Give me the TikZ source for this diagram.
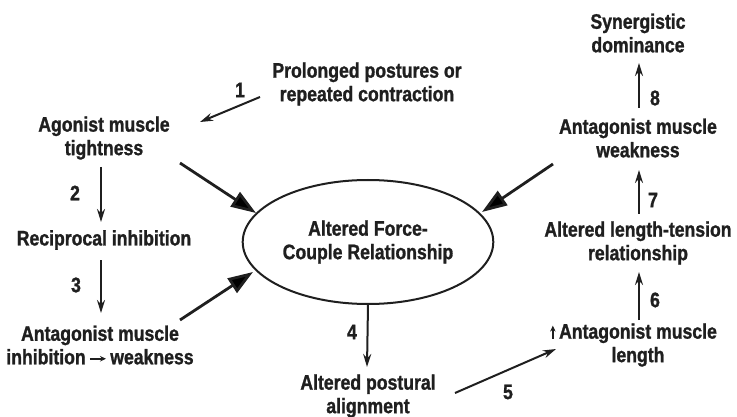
\documentclass[tikz,border=0pt]{standalone}
\usepackage{fontspec}
\setmainfont{Liberation Sans}[FakeStretch=0.84, BoldFeatures={FakeBold=1.2}]
\usepackage{tikz}
\usetikzlibrary{shapes.geometric,arrows.meta}
\tikzstyle{step text} = [align=center, inner sep=1pt, font=\bfseries\fontsize{21}{23.5}\selectfont, text=black!88]
\tikzstyle{num} = [inner sep=1pt, font=\bfseries\fontsize{21}{23.5}\selectfont, text=black!88]
\tikzstyle{hub} = [ellipse, draw=black!88, line width=2pt, minimum width=236pt, minimum height=124pt, align=center, font=\bfseries\fontsize{21}{23.5}\selectfont, text=black!88]
\tikzstyle{arrow} = [line width=2pt, draw=black!88, -{Stealth[length=13pt,width=8pt]}]
\tikzstyle{bigarrow} = [line width=2.8pt, draw=black!88, -{Triangle[length=25pt,width=17pt]}]
\tikzstyle{tiny arrow} = [line width=1.6pt, draw=black!88, -{Stealth[length=6pt,width=5.5pt]}]

\begin{document}
\begin{tikzpicture}[x=1pt,y=-1pt]
\useasboundingbox (0,0) rectangle (737,417);
\node (prolonged) [step text] at (367,84) {Prolonged postures or\\repeated contraction};
\node (agonist) [step text] at (104,138) {Agonist muscle\\tightness};
\node (reciprocal) [step text] at (104,240) {Reciprocal inhibition};
\node (antinhib) [step text] at (100,345) {Antagonist muscle\\inhibition\,\tikz[baseline=-5.5pt]\draw[tiny arrow] (0pt,0pt) -- (16pt,0pt);\,weakness};
\node (force) [hub] at (368,242) {Altered Force-\\Couple Relationship};
\node (postural) [step text] at (368,396) {Altered postural\\alignment};
\node (antlength) [step text] at (638,345) {\llap{\tikz[baseline=0pt]\draw[tiny arrow] (0pt,0pt) -- (0pt,13pt);\,}Antagonist muscle\\length};
\node (lentension) [step text] at (638,243) {Altered length-tension\\relationship};
\node (antweak) [step text] at (638,138) {Antagonist muscle\\weakness};
\node (synergy) [step text] at (638,33) {Synergistic\\dominance};

% step numbers
\node (n1) [num] at (240,90) {1};
\node (n2) [num] at (75,193) {2};
\node (n3) [num] at (76,285) {3};
\node (n4) [num] at (352,332) {4};
\node (n5) [num] at (508,392) {5};
\node (n6) [num] at (655,300) {6};
\node (n7) [num] at (653,200) {7};
\node (n8) [num] at (655,98) {8};

\draw [arrow] ([shift={(-107,13)}]prolonged.center) -- ([shift={(96,-16)}]agonist.center);
\draw [arrow] ([shift={(-3,29)}]agonist.center) -- ([shift={(-3,-18)}]reciprocal.center);
\draw [arrow] ([shift={(-3,20)}]reciprocal.center) -- ([shift={(1,-32)}]antinhib.center);
\draw [arrow] (force.south) -- ([shift={(-1,-29)}]postural.center);
\draw [arrow] ([shift={(87,-3)}]postural.center) -- ([shift={(-82,4)}]antlength.center);
\draw [arrow] ([shift={(1,-25)}]antlength.center) -- ([shift={(1,29)}]lentension.center);
\draw [arrow] ([shift={(1,-29)}]lentension.center) -- ([shift={(1,32)}]antweak.center);
\draw [arrow] ([shift={(1,-30)}]antweak.center) -- ([shift={(1,30)}]synergy.center);

\draw [bigarrow] ([shift={(76,25)}]agonist.center) -- ([shift={(-112,-29)}]force.center);
\draw [bigarrow] ([shift={(80,-25)}]antinhib.center) -- ([shift={(-115,30)}]force.center);
\draw [bigarrow] ([shift={(-85,26)}]antweak.center) -- ([shift={(114,-30)}]force.center);
\end{tikzpicture}
\end{document}
